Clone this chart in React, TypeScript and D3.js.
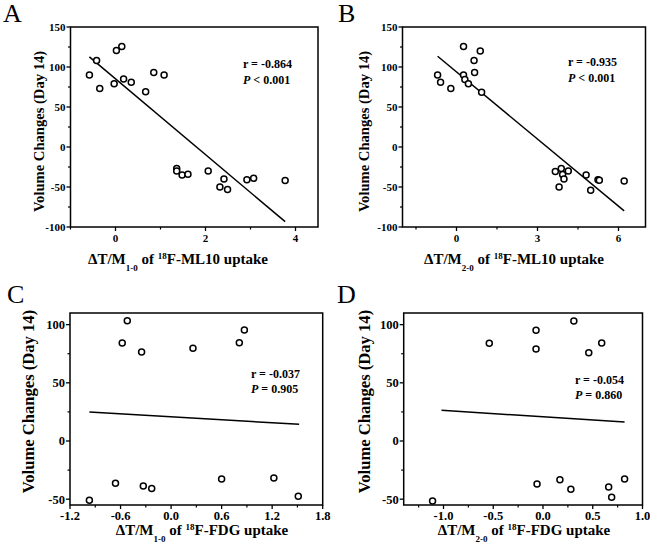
import React from "react";
import * as d3 from "d3";

// ---------- Data ----------
const aX = [-0.58, -0.42, -0.35, -0.03, 0.02, 0.14, 0.18, 0.35, 0.67, 0.85, 1.08, 1.36, 1.36, 1.48, 1.61, 2.06, 2.32, 2.41, 2.49, 2.92, 3.07, 3.77];
const aY = [90, 108, 73, 79, 120.6, 125.6, 85, 81, 69, 93, 90, -27, -30, -35, -34, -30, -50, -40, -53, -41, -39, -42];
const aFitX = [-0.58, 3.77];
const aFitY = [112.6, -93.3];

const bX = [-0.70, -0.59, -0.21, 0.26, 0.26, 0.31, 0.44, 0.65, 0.67, 0.88, 0.93, 3.66, 3.80, 3.88, 3.93, 3.98, 4.14, 4.80, 4.97, 5.24, 5.29, 6.21];
const bY = [90, 81, 73, 125.6, 90, 84.5, 79, 108, 93, 120, 68.5, -30.7, -50, -27, -34.5, -40, -30, -35, -54, -41, -41.6, -42.4];
const bFitX = [-0.70, 6.21];
const bFitY = [113.4, -79.8];

const cX = [-0.97, -0.66, -0.58, -0.52, -0.35, -0.33, -0.23, 0.26, 0.60, 0.81, 0.87, 1.22, 1.51];
const cY = [-51, -36.3, 84.2, 103.4, 76.5, -38.7, -40.9, 79.6, -32.6, 84.5, 95.4, -31.8, -47.5];
const cFitX = [-0.97, 1.52];
const cFitY = [24.9, 14.3];

const dX = [-1.11, -0.54, -0.07, -0.07, -0.06, 0.17, 0.28, 0.31, 0.46, 0.59, 0.66, 0.69, 0.82];
const dY = [-51.5, 83.9, 95.1, 79, -36.9, -33.2, -41.5, 103.1, 75.9, 84.2, -39.5, -48.4, -32.6];
const dFitX = [-1.02, 0.82];
const dFitY = [26.4, 16.3];

// ---------- Ticks ----------
const abYTicks = [-100, -50, 0, 50, 100, 150];
const abYMinor = [-75, -25, 25, 75, 125];
const aXTicks = [0, 2, 4];
const aXMinor = [-1, 1, 3];
const bXTicks = [0, 3, 6];
const bXMinor = [-1.5, 1.5, 4.5];
const cdYTicks = [-50, 0, 50, 100];
const cdYMinor = [-25, 25, 75];
const cXTicks = [-1.2, -0.6, 0.0, 0.6, 1.2, 1.8];
const cXMinor = [-0.9, -0.3, 0.3, 0.9, 1.5];
const dXTicks = [-1.0, -0.5, 0.0, 0.5, 1.0];
const dXMinor = [-1.25, -0.75, -0.25, 0.25, 0.75];

const yTitle = "Volume Changes (Day 14)";
const statsR = ["r = -0.864", "r = -0.935", "r = -0.037", "r = -0.054"];
const statsP = ["< 0.001", "< 0.001", "= 0.905", "= 0.860"];
const letters = ["A", "B", "C", "D"];
const subs = ["1-0", "2-0", "1-0", "2-0"];
const tracers = ["F-ML10 uptake", "F-ML10 uptake", "F-FDG uptake", "F-FDG uptake"];

const FONT = "'Liberation Serif', 'Times New Roman', serif";

type Cfg = {
  xs: number[]; ys: number[]; fitX: number[]; fitY: number[];
  xDomain: number[]; yDomain: number[];
  left: number; right: number; top: number; bottom: number;
  xTicks: number[]; xMinor: number[]; yTicks: number[]; yMinor: number[];
  xFmt: (v: number) => string;
  tickFont: number; yTitleFont: number; yTitleX: number; yTitleY: number;
  xTitleX: number; xTitleY: number;
  statX: number; statY1: number; statY2: number;
  letterX: number; letterY: number;
  idx: number;
};

function Panel({ c }: { c: Cfg }) {
  const x = d3.scaleLinear().domain(c.xDomain).range([c.left, c.right]);
  const y = d3.scaleLinear().domain(c.yDomain).range([c.bottom, c.top]);
  const line = d3.line<number>().x((d, i) => x(c.fitX[i])).y((d, i) => y(c.fitY[i]));
  const i = c.idx;
  return (
    <g fontFamily={FONT}>
      <text x={c.letterX} y={c.letterY} fontSize={26}>{letters[i]}</text>
      {/* frame */}
      <rect x={c.left} y={c.top} width={c.right - c.left} height={c.bottom - c.top} fill="none" stroke="#000" strokeWidth={1.5} />
      {/* x ticks */}
      {c.xTicks.map((t) => (
        <g key={"xt" + t}>
          <line x1={x(t)} x2={x(t)} y1={c.bottom} y2={c.bottom + 4} stroke="#000" strokeWidth={1.3} />
          <text x={x(t)} y={c.bottom + 15} fontSize={c.tickFont} fontWeight="bold" textAnchor="middle">{c.xFmt(t)}</text>
        </g>
      ))}
      {c.xMinor.map((t) => (
        <line key={"xm" + t} x1={x(t)} x2={x(t)} y1={c.bottom} y2={c.bottom + 2.5} stroke="#000" strokeWidth={1.2} />
      ))}
      {/* y ticks */}
      {c.yTicks.map((t) => (
        <g key={"yt" + t}>
          <line x1={c.left - 4} x2={c.left} y1={y(t)} y2={y(t)} stroke="#000" strokeWidth={1.3} />
          <text x={c.left - 5} y={y(t) + c.tickFont * 0.35} fontSize={c.tickFont} fontWeight="bold" textAnchor="end">{t}</text>
        </g>
      ))}
      {c.yMinor.map((t) => (
        <line key={"ym" + t} x1={c.left - 2.5} x2={c.left} y1={y(t)} y2={y(t)} stroke="#000" strokeWidth={1.2} />
      ))}
      {/* fit line */}
      <path d={line(c.fitX) || ""} fill="none" stroke="#000" strokeWidth={1.5} />
      {/* points */}
      {c.xs.map((v, k) => (
        <circle key={"p" + k} cx={x(v)} cy={y(c.ys[k])} r={3} fill="#fff" stroke="#000" strokeWidth={1.5} />
      ))}
      {/* stats */}
      <text x={c.statX} y={c.statY1} fontSize={12} fontWeight="bold">{statsR[i]}</text>
      <text x={c.statX} y={c.statY2} fontSize={12} fontWeight="bold" style={{ whiteSpace: "pre" }}>
        <tspan fontStyle="italic">P</tspan>
        <tspan>{" " + statsP[i]}</tspan>
      </text>
      {/* y title */}
      <text transform={`translate(${c.yTitleX},${c.yTitleY}) rotate(-90)`} fontSize={c.yTitleFont} fontWeight="bold" textAnchor="middle">{yTitle}</text>
      {/* x title */}
      <text x={c.xTitleX} y={c.xTitleY} fontSize={15} fontWeight="bold" textAnchor="middle" style={{ whiteSpace: "pre" }}>
        <tspan>ΔT/M</tspan>
        <tspan fontSize={9} dy={7}>{subs[i]}</tspan>
        <tspan dy={-7}>{" of "}</tspan>
        <tspan fontSize={9} dy={-5}>18</tspan>
        <tspan dy={5}>{tracers[i]}</tspan>
      </text>
    </g>
  );
}

const intFmt = (v: number) => String(v);
const oneFmt = (v: number) => v.toFixed(1);

const panels: Cfg[] = [
  {
    xs: aX, ys: aY, fitX: aFitX, fitY: aFitY, xDomain: [-1, 4.5], yDomain: [-100, 150],
    left: 70.5, right: 318, top: 27, bottom: 227,
    xTicks: aXTicks, xMinor: aXMinor, yTicks: abYTicks, yMinor: abYMinor, xFmt: intFmt,
    tickFont: 11, yTitleFont: 14.6, yTitleX: 44, yTitleY: 131.5,
    xTitleX: 178, xTitleY: 264, statX: 243, statY1: 67.5, statY2: 84,
    letterX: 3, letterY: 22, idx: 0,
  },
  {
    xs: bX, ys: bY, fitX: bFitX, fitY: bFitY, xDomain: [-2, 7], yDomain: [-100, 150],
    left: 402.5, right: 645.5, top: 27, bottom: 227,
    xTicks: bXTicks, xMinor: bXMinor, yTicks: abYTicks, yMinor: abYMinor, xFmt: intFmt,
    tickFont: 11, yTitleFont: 14.6, yTitleX: 369, yTitleY: 131.5,
    xTitleX: 514, xTitleY: 264, statX: 568, statY1: 66, statY2: 81.5,
    letterX: 338, letterY: 22, idx: 1,
  },
  {
    xs: cX, ys: cY, fitX: cFitX, fitY: cFitY, xDomain: [-1.2, 1.8], yDomain: [-55, 110],
    left: 70, right: 322.7, top: 313, bottom: 505,
    xTicks: cXTicks, xMinor: cXMinor, yTicks: cdYTicks, yMinor: cdYMinor, xFmt: oneFmt,
    tickFont: 12.5, yTitleFont: 16.6, yTitleX: 34, yTitleY: 401.5,
    xTitleX: 202, xTitleY: 535, statX: 251, statY1: 378, statY2: 393,
    letterX: 7, letterY: 303, idx: 2,
  },
  {
    xs: dX, ys: dY, fitX: dFitX, fitY: dFitY, xDomain: [-1.4, 1.0], yDomain: [-55, 110],
    left: 403.7, right: 642.5, top: 313, bottom: 505,
    xTicks: dXTicks, xMinor: dXMinor, yTicks: cdYTicks, yMinor: cdYMinor, xFmt: oneFmt,
    tickFont: 12.5, yTitleFont: 16.6, yTitleX: 370, yTitleY: 401.5,
    xTitleX: 524, xTitleY: 535, statX: 575, statY1: 383.5, statY2: 399,
    letterX: 337, letterY: 303, idx: 3,
  },
];

export default function App() {
  return (
    <svg width={650} height={552} style={{ position: "absolute", left: 0, top: 0, background: "#fff" }}>
      <rect width={650} height={552} fill="#fff" />
      {panels.map((p) => <Panel key={p.idx} c={p} />)}
    </svg>
  );
}
